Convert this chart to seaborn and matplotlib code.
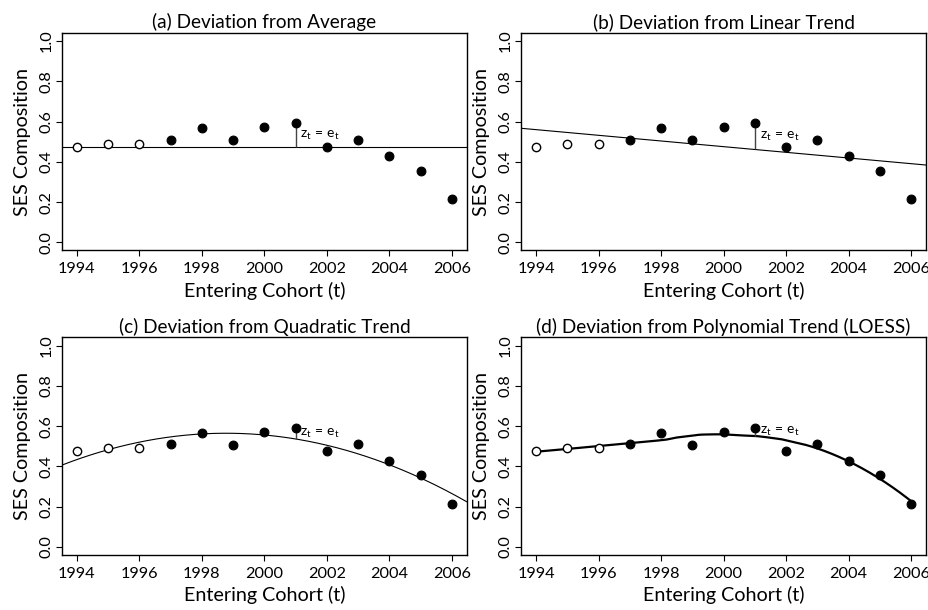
import matplotlib
matplotlib.use("Agg")
import matplotlib.pyplot as plt
import numpy as np
import pandas as pd
import seaborn as sns

# cohort values
years = [1994, 1995, 1996, 1997, 1998, 1999, 2000, 2001, 2002, 2003, 2004, 2005, 2006]
ses = [0.474, 0.490, 0.489, 0.510, 0.566, 0.507, 0.571, 0.591, 0.475, 0.510, 0.429, 0.356, 0.215]
hollow_years = [1994, 1995, 1996]
marked_year = 2001
titles = ["(a) Deviation from Average", "(b) Deviation from Linear Trend",
          "(c) Deviation from Quadratic Trend", "(d) Deviation from Polynomial Trend (LOESS)"]
x_ticks = [1994, 1996, 1998, 2000, 2002, 2004, 2006]
y_ticks = [0.0, 0.2, 0.4, 0.6, 0.8, 1.0]

sns.set_style("ticks", {"axes.edgecolor": "black", "xtick.color": "black", "ytick.color": "black",
                        "text.color": "black", "axes.labelcolor": "black"})
plt.rcParams["font.family"] = ["Lato", "DejaVu Sans"]
plt.rcParams["mathtext.fontset"] = "custom"
plt.rcParams["mathtext.rm"] = "Lato"
plt.rcParams["mathtext.it"] = "Lato"

df = pd.DataFrame({"year": years, "ses": ses})
df["open"] = df["year"].isin(hollow_years)
x = df["year"].to_numpy(float)
y = df["ses"].to_numpy(float)


def loess(x, y, xnew, span=0.75, degree=2):
    # plain local quadratic regression with tricube weights
    q = int(np.floor(len(x) * span))
    out = []
    for x0 in xnew:
        d = np.abs(x - x0)
        h = np.sort(d)[q - 1]
        w = np.clip(1 - (d / h) ** 3, 0, None) ** 3
        c = np.polyfit(x - x0, y, degree, w=np.sqrt(w))
        out.append(c[-1])
    return np.array(out)


xlim = (1993.52, 2006.48)
grid = np.linspace(xlim[0], xlim[1], 300)
grid_in = np.linspace(x.min(), x.max(), 300)
lin = np.polyfit(x, y, 1)
quad = np.polyfit(x, y, 2)

fits = [
    (grid, np.full_like(grid, y.mean()), lambda v: y.mean()),
    (grid, np.polyval(lin, grid), lambda v: np.polyval(lin, v)),
    (grid, np.polyval(quad, grid), lambda v: np.polyval(quad, v)),
    (grid_in, loess(x, y, grid_in), lambda v: loess(x, y, [v])[0]),
]

fig, axes = plt.subplots(2, 2, figsize=(9.29, 6.10), dpi=100)
plt.subplots_adjust(left=0.0667, right=0.9968, top=0.9459, bottom=0.0902, wspace=0.134, hspace=0.40)

for i, ax in enumerate(axes.flat):
    gx, gy, f = fits[i]
    sns.lineplot(x=gx, y=gy, ax=ax, color="black", lw=1.6 if i == 3 else 0.8, sort=False)
    y_mark = df.loc[df["year"] == marked_year, "ses"].iloc[0]
    y_fit = f(marked_year)
    ax.vlines(marked_year, y_fit, y_mark, color="#444444", lw=1.0)
    ax.text(marked_year + 0.15, (y_fit + y_mark) / 2, r"$\mathregular{z_t\,=\,e_t}$",
            fontsize=10, va="center", ha="left")
    sns.scatterplot(data=df[~df["open"]], x="year", y="ses", ax=ax, color="black",
                    s=40, edgecolor="black", linewidth=0.8, zorder=3)
    sns.scatterplot(data=df[df["open"]], x="year", y="ses", ax=ax, color="white",
                    s=36, edgecolor="black", linewidth=1.0, zorder=3)
    ax.set_xlim(*xlim)
    ax.set_ylim(-0.04, 1.04)
    ax.set_xticks(x_ticks)
    ax.set_yticks(y_ticks)
    ax.set_yticklabels([f"{t:.1f}" for t in y_ticks], rotation=90, va="center")
    ax.tick_params(labelsize=11.7, length=4, width=0.8)
    ax.tick_params(axis="x", pad=4.5)
    ax.tick_params(axis="y", pad=2)
    for s in ax.spines.values():
        s.set_visible(True)
        s.set_linewidth(1.0)
    ax.set_title(titles[i], fontsize=13.7, pad=3.5)
    ax.set_xlabel("Entering Cohort (t)", fontsize=14.2, labelpad=4)
    ax.set_ylabel("SES Composition", fontsize=14.2, labelpad=6)

fig.savefig("out.png", dpi=100)
